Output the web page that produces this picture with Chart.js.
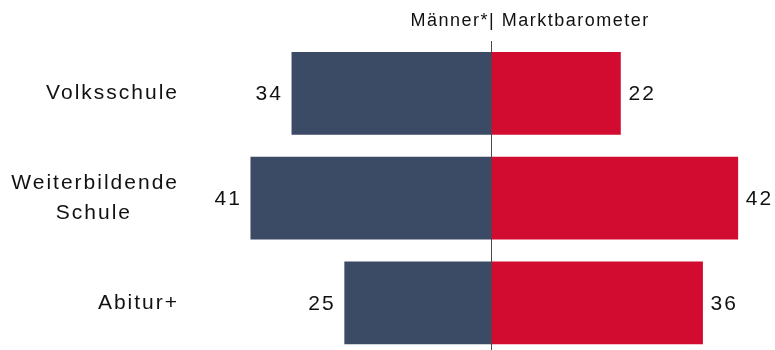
<!DOCTYPE html>
<html>
<head>
<meta charset="utf-8">
<script src="https://cdn.jsdelivr.net/npm/chart.js@4"></script>
<style>
  html, body { margin: 0; padding: 0; background: #ffffff; }
  #wrap { width: 775px; height: 350px; position: relative; }
</style>
</head>
<body>
<div id="wrap"><canvas id="c"></canvas></div>
<script>
// Categories (multi-line label as an array of lines)
const categories = ['Volksschule', ['Weiterbildende', 'Schule'], 'Abitur+'];
// Share values per category, in percent
const maennerValues = [34, 41, 25];
const marktbarometerValues = [22, 42, 36];
const seriesNames = ['Männer*', 'Marktbarometer'];
const headerText = 'Männer*| Marktbarometer';

const FONT = "'Liberation Sans', Arial, sans-serif";
const TEXT_COLOR = '#111111';
const LABEL_SIZE = 21;
const LABEL_SPACING = '2px';

// Pads the shorter lines of a multi-line label so each line sits centred
// inside the right-aligned label block.
const measureCtx = document.createElement('canvas').getContext('2d');
function centerLines(label) {
  if (!Array.isArray(label)) return label;
  measureCtx.font = LABEL_SIZE + 'px ' + FONT;
  measureCtx.letterSpacing = LABEL_SPACING;
  const space = measureCtx.measureText(' ').width;
  const widths = label.map(l => measureCtx.measureText(l).width);
  const max = Math.max(...widths);
  return label.map((l, i) => l + ' '.repeat(Math.round((max - widths[i]) / 2 / space)));
}

// Slightly spaced-out text throughout the chart
const spacingPlugin = {
  id: 'letterSpacing',
  beforeUpdate(chart) { chart.ctx.letterSpacing = LABEL_SPACING; },
  beforeLayout(chart) { chart.ctx.letterSpacing = LABEL_SPACING; },
  beforeDraw(chart) { chart.ctx.letterSpacing = LABEL_SPACING; }
};

// Header with the divider bar sitting on the zero line
const headerPlugin = {
  id: 'header',
  afterDraw(chart) {
    const ctx = chart.ctx;
    const x0 = chart.scales.x.getPixelForValue(0);
    ctx.save();
    ctx.font = '18px ' + FONT;
    ctx.letterSpacing = '1.5px';
    ctx.fillStyle = TEXT_COLOR;
    ctx.textAlign = 'left';
    ctx.textBaseline = 'alphabetic';
    const wLeft = ctx.measureText(seriesNames[0]).width;
    const wPipe = ctx.measureText('|').width - 1.5;
    ctx.fillText(headerText, x0 - wLeft - wPipe / 2, 26);
    ctx.restore();
  }
};

// Value labels beside the outer end of every bar
const valueLabelPlugin = {
  id: 'valueLabels',
  afterDatasetsDraw(chart) {
    const ctx = chart.ctx;
    ctx.save();
    ctx.font = LABEL_SIZE + 'px ' + FONT;
    ctx.letterSpacing = LABEL_SPACING;
    ctx.fillStyle = TEXT_COLOR;
    ctx.textBaseline = 'middle';
    chart.data.datasets.forEach((ds, di) => {
      const meta = chart.getDatasetMeta(di);
      meta.data.forEach((bar, i) => {
        const v = Math.abs(ds.data[i].x);
        if (ds.data[i].x < 0) {
          ctx.textAlign = 'right';
          ctx.fillText(String(v), bar.x - 9, bar.y + 1);
        } else {
          ctx.textAlign = 'left';
          ctx.fillText(String(v), bar.x + 8, bar.y + 1);
        }
      });
    });
    ctx.restore();
  }
};

const chart = new Chart(document.getElementById('c'), {
  type: 'bar',
  data: {
    datasets: [
      {
        label: seriesNames[0],
        data: maennerValues.map((v, i) => ({ x: -v, y: i })),
        backgroundColor: '#3b4a65',
        barThickness: 82
      },
      {
        label: seriesNames[1],
        data: marktbarometerValues.map((v, i) => ({ x: v, y: i })),
        backgroundColor: '#d20b30',
        barThickness: 82
      }
    ]
  },
  options: {
    indexAxis: 'y',
    responsive: true,
    maintainAspectRatio: false,
    animation: false,
    events: [],
    layout: { padding: { top: 41, right: 2, left: 0, bottom: 0 } },
    plugins: {
      legend: { display: false },
      tooltip: { enabled: false },
      title: { display: false }
    },
    scales: {
      x: {
        type: 'linear',
        min: -50,
        max: 48,
        stacked: true,
        position: 'bottom',
        z: 1,
        ticks: { display: false, stepSize: 10 },
        border: { display: false },
        grid: {
          drawTicks: false,
          lineWidth: 1,
          color: c => (c.tick && c.tick.value === 0) ? '#4a4a4a' : 'rgba(0,0,0,0)'
        },
        afterFit: s => { s.height = 0; s.paddingLeft = 0; s.paddingRight = 0; }
      },
      y: {
        type: 'linear',
        min: -0.5,
        max: 2.45,
        reverse: true,
        stacked: true,
        offset: false,
        afterBuildTicks: s => { s.ticks = categories.map((c, i) => ({ value: i })); },
        ticks: {
          callback: v => centerLines(categories[v]),
          font: { family: FONT, size: LABEL_SIZE, lineHeight: 1.43 },
          color: TEXT_COLOR,
          padding: 19
        },
        grid: { display: false, drawTicks: false, offset: false },
        border: { display: false },
        afterFit: s => { s.width = 198; s.paddingTop = 0; s.paddingBottom = 0; }
      }
    }
  },
  plugins: [spacingPlugin, headerPlugin, valueLabelPlugin]
});
</script>
</body>
</html>
